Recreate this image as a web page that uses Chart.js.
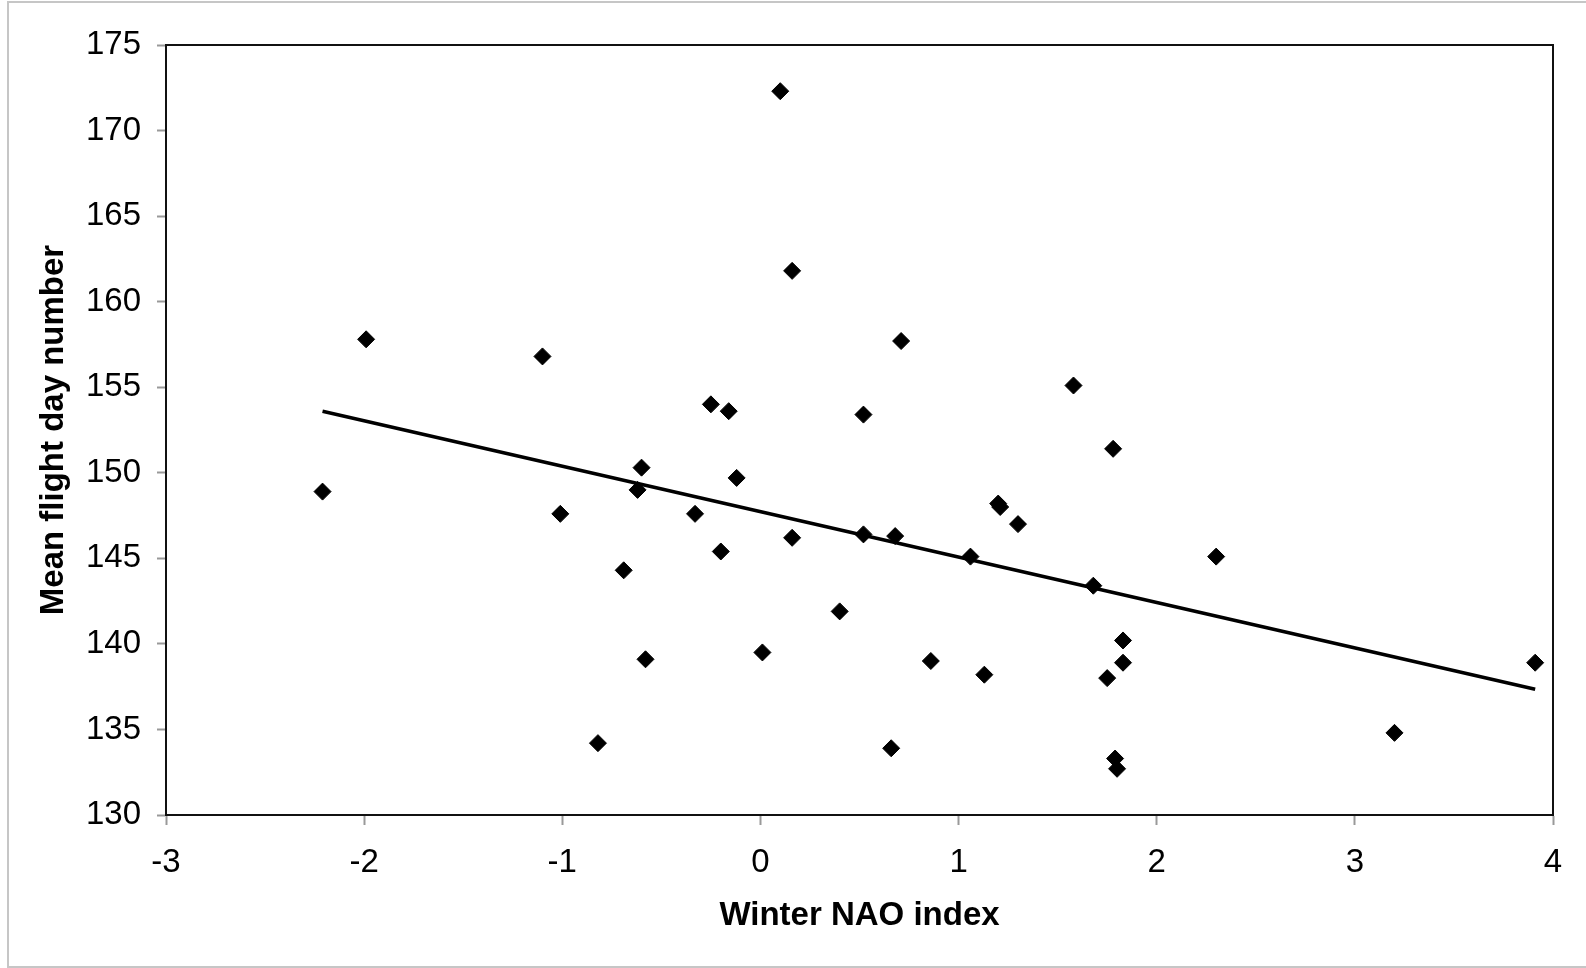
<!DOCTYPE html>
<html>
<head>
<meta charset="utf-8">
<title>Winter NAO index vs mean flight day</title>
<script src="https://cdn.jsdelivr.net/npm/chart.js@4.4.1/dist/chart.umd.min.js"></script>
<style>
  html, body { margin: 0; padding: 0; background: #fff; overflow: hidden; }
  #wrap { position: relative; width: 1586px; height: 968px; }
  #frame {
    position: absolute; left: 7px; top: 1px; width: 1585px; height: 963px;
    border: 2px solid #c6c6c6; pointer-events: none;
  }
</style>
</head>
<body>
<div id="wrap">
  <canvas id="chart"></canvas>
  <div id="frame"></div>
</div>
<script>
// 🔹 DATA
const naoIndex = [
  -2.21, -1.99, -1.10, -1.01, -0.82, -0.69, -0.62, -0.60, -0.58, -0.33,
  -0.25, -0.20, -0.16, -0.12, 0.01, 0.10, 0.16, 0.16, 0.40, 0.52,
  0.52, 0.66, 0.68, 0.71, 0.86, 1.06, 1.13, 1.20, 1.21, 1.30,
  1.58, 1.68, 1.75, 1.78, 1.79, 1.80, 1.83, 1.83, 2.30, 3.20, 3.91
];
const flightDay = [
  148.9, 157.8, 156.8, 147.6, 134.2, 144.3, 149.0, 150.3, 139.1, 147.6,
  154.0, 145.4, 153.6, 149.7, 139.5, 172.3, 161.8, 146.2, 141.9, 153.4,
  146.4, 133.9, 146.3, 157.7, 139.0, 145.1, 138.2, 148.2, 148.0, 147.0,
  155.1, 143.4, 138.0, 151.4, 133.3, 132.7, 140.2, 138.9, 145.1, 134.8, 138.9
];

// trend line end points as drawn
const trendX = [-2.21, 3.91];
const trendY = [153.6, 137.35];

// axis ranges / ticks
const xTicks = [-3, -2, -1, 0, 1, 2, 3, 4];
const yTicks = [130, 135, 140, 145, 150, 155, 160, 165, 170, 175];

const points = naoIndex.map((x, i) => ({ x: x, y: flightDay[i] }));
const trend = trendX.map((x, i) => ({ x: x, y: trendY[i] }));

// 🔹 plot frame (Excel style box round the plot area)
const plotFrame = {
  id: "plotFrame",
  afterDraw(chart) {
    const { ctx, chartArea: a } = chart;
    ctx.save();
    ctx.strokeStyle = "#111";
    ctx.lineWidth = 2;
    ctx.strokeRect(a.left, a.top, a.right - a.left, a.bottom - a.top);
    ctx.restore();
  }
};

const fontFam = "'Liberation Sans', Arial, Helvetica, sans-serif";

new Chart(document.getElementById("chart"), {
  type: "scatter",
  data: {
    datasets: [
      {
        label: "Mean flight day",
        data: points,
        pointStyle: "rectRot",
        pointRadius: 8.5,
        pointHoverRadius: 8.5,
        pointBackgroundColor: "#000",
        pointBorderColor: "#000",
        pointBorderWidth: 1,
        order: 2
      },
      {
        type: "line",
        label: "Trend",
        data: trend,
        borderColor: "#000",
        borderWidth: 3.5,
        pointRadius: 0,
        fill: false,
        tension: 0,
        order: 1
      }
    ]
  },
  options: {
    responsive: true,
    maintainAspectRatio: false,
    animation: false,
    layout: { padding: { top: 45, right: 33, bottom: 0, left: 0 } },
    plugins: {
      legend: { display: false },
      tooltip: { enabled: false }
    },
    scales: {
      x: {
        type: "linear",
        min: xTicks[0],
        max: xTicks[xTicks.length - 1],
        afterBuildTicks: s => { s.ticks = xTicks.map(v => ({ value: v })); },
        afterFit: s => { s.height = 153; },
        grid: { drawOnChartArea: false, drawTicks: true, tickLength: 10, tickColor: "#999", tickWidth: 2 },
        border: { color: "#111", width: 2 },
        ticks: {
          color: "#000",
          padding: 18,
          maxRotation: 0,
          font: { family: fontFam, size: 33 }
        },
        title: {
          display: true,
          text: "Winter NAO index",
          color: "#000",
          padding: { top: 0, bottom: 32 },
          font: { family: fontFam, size: 33, weight: "bold" }
        }
      },
      y: {
        type: "linear",
        min: yTicks[0],
        max: yTicks[yTicks.length - 1],
        afterBuildTicks: s => { s.ticks = yTicks.map(v => ({ value: v })); },
        afterFit: s => { s.width = 166; },
        grid: { drawOnChartArea: false, drawTicks: true, tickLength: 9, tickColor: "#999", tickWidth: 2 },
        border: { color: "#111", width: 2 },
        ticks: {
          color: "#000",
          padding: 16,
          font: { family: fontFam, size: 33 }
        },
        title: {
          display: true,
          text: "Mean flight day number",
          color: "#000",
          padding: { top: 34, bottom: 0 },
          font: { family: fontFam, size: 33, weight: "bold" }
        }
      }
    }
  },
  plugins: [plotFrame]
});
</script>
</body>
</html>
